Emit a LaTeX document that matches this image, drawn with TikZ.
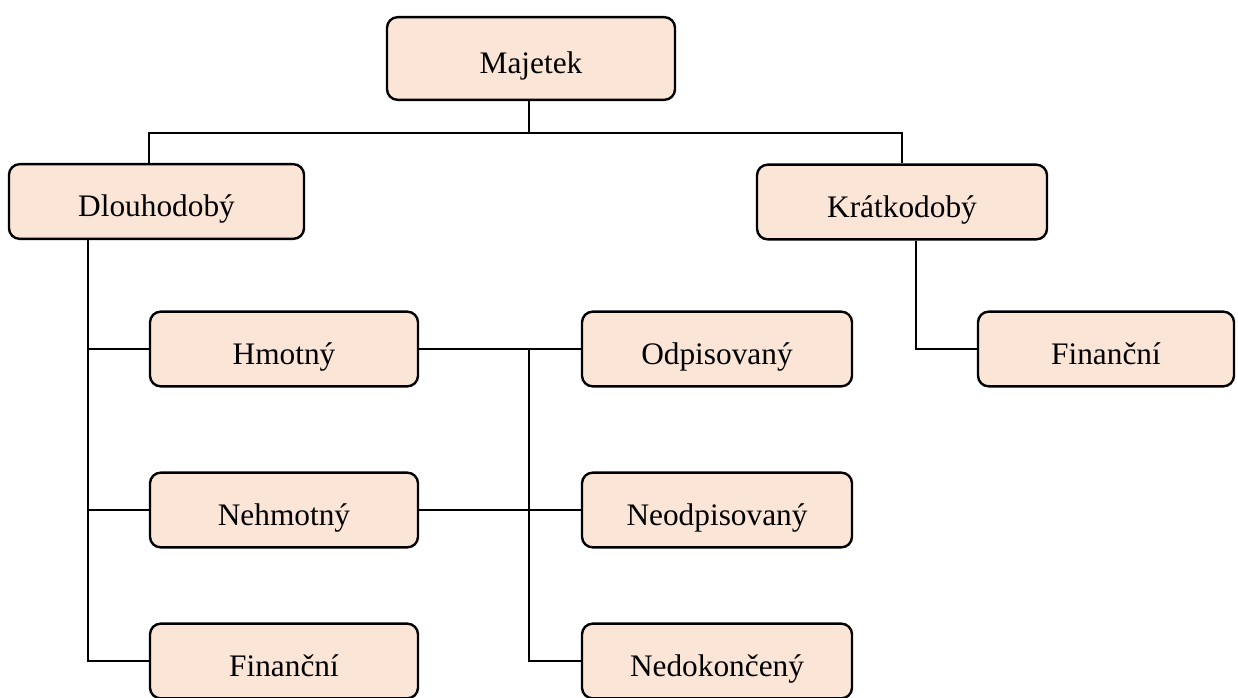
\documentclass[tikz,border=0pt]{standalone}
\usepackage{fontspec}
\setmainfont{Liberation Serif}
\definecolor{boxfill}{HTML}{FBE5D6}
\begin{document}
\begin{tikzpicture}[x=0.75pt,y=-0.75pt,
  box/.style={draw=black,line width=1.8pt,fill=boxfill,rounded corners=8pt,
    minimum width=#1*0.75pt,minimum height=56pt,inner sep=0pt,
    text height=25pt,text depth=2pt,
    font=\fontsize{23.5}{28}\selectfont},
  box/.default=268,
  conn/.style={draw=black,line width=1.5pt}]
\useasboundingbox (0,0) rectangle (1238,697);
\node[box=288,minimum height=62pt] (maj) at (531,58.5) {Majetek};
\node[box=295] (dl) at (156.5,201.5) {Dlouhodobý};
\node[box=290] (kr) at (902,202) {Krátkodobý};
\node[box] (hm) at (284,349) {Hmotný};
\node[box=270] (od) at (717,349) {Odpisovaný};
\node[box=256] (fin2) at (1106,349) {Finanční};
\node[box] (neh) at (284,510) {Nehmotný};
\node[box=270] (neo) at (717,510) {Neodpisovaný};
\node[box] (fin1) at (284,661) {Finanční};
\node[box=270] (ned) at (717,661) {Nedokončený};
% Majetek bus
\coordinate (mb) at (529,133);
\coordinate (bl) at (149,133);
\coordinate (br) at (902,133);
\draw[conn] (maj.south -| mb) -- (mb);
\draw[conn] (dl.north -| bl) -- (bl) -- (br) -- (kr.north -| br);
% Dlouhodoby
\coordinate (dv) at (88,661);
\draw[conn] (dl.south -| dv) -- (dv) -- (fin1.west);
\draw[conn] (hm.west -| dv) -- (hm.west);
\draw[conn] (neh.west -| dv) -- (neh.west);
% Kratkodoby
\coordinate (kv) at (916,349);
\draw[conn] (kr.south -| kv) -- (kv) -- (fin2.west);
% Hmotny / Nehmotny
\coordinate (hv) at (529,661);
\draw[conn] (hm.east) -- (od.west);
\draw[conn] (neh.east) -- (neo.west);
\draw[conn] (hm.east -| hv) -- (hv) -- (ned.west);
\end{tikzpicture}
\end{document}
